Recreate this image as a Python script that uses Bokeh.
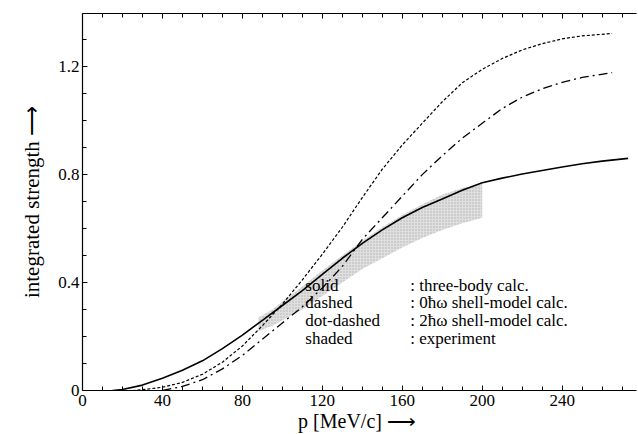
from bokeh.plotting import figure
from bokeh.models import Range1d, FixedTicker, LinearAxis, ColumnDataSource
from bokeh.core.properties import value
from bokeh.embed import file_html
from bokeh.resources import INLINE

# ---- data ----
solid_x = [15, 20, 30, 40, 50, 60, 70, 80, 90, 100, 110, 120, 130, 140, 150, 160, 170, 180, 190, 200, 210, 220, 230, 240, 250, 260, 273]
solid_y = [0.0, 0.004, 0.02, 0.045, 0.075, 0.11, 0.155, 0.205, 0.26, 0.315, 0.37, 0.43, 0.49, 0.545, 0.595, 0.64, 0.678, 0.71, 0.742, 0.77, 0.787, 0.802, 0.815, 0.828, 0.84, 0.85, 0.86]

dashed_x = [25, 30, 40, 50, 60, 70, 80, 90, 100, 110, 120, 130, 140, 150, 160, 170, 180, 190, 200, 210, 220, 230, 240, 250, 265]
dashed_y = [0.0, 0.003, 0.012, 0.03, 0.06, 0.105, 0.165, 0.24, 0.32, 0.41, 0.505, 0.605, 0.715, 0.82, 0.91, 0.99, 1.07, 1.14, 1.19, 1.23, 1.262, 1.285, 1.303, 1.314, 1.323]

dotdash_x = [40, 50, 60, 70, 80, 90, 100, 110, 120, 130, 140, 150, 160, 170, 180, 190, 200, 210, 220, 230, 240, 250, 265]
dotdash_y = [0.0, 0.015, 0.04, 0.08, 0.13, 0.19, 0.25, 0.31, 0.38, 0.46, 0.56, 0.64, 0.72, 0.80, 0.87, 0.935, 0.99, 1.045, 1.087, 1.118, 1.142, 1.16, 1.178]

exp_x = [88, 95, 100, 110, 120, 130, 140, 150, 160, 170, 180, 190, 200]
exp_hi = [0.27, 0.30, 0.33, 0.385, 0.445, 0.50, 0.555, 0.605, 0.65, 0.69, 0.725, 0.75, 0.765]
exp_lo = [0.22, 0.24, 0.26, 0.30, 0.35, 0.40, 0.45, 0.49, 0.53, 0.565, 0.595, 0.62, 0.64]

x_ticks = [0, 40, 80, 120, 160, 200, 240]
x_minor = [10, 20, 30, 50, 60, 70, 90, 100, 110, 130, 140, 150, 170, 180, 190, 210, 220, 230, 250, 260, 270]
y_ticks = [0, 0.4, 0.8, 1.2]
y_labels = ["0", "0.4", "0.8", "1.2"]
y_minor = [0.1, 0.2, 0.3, 0.5, 0.6, 0.7, 0.9, 1.0, 1.1, 1.3]

legend_keys = ["solid", "dashed", "dot-dashed", "shaded"]
legend_desc = [": three-body calc.", ": 0ħω shell-model calc.", ": 2ħω shell-model calc.", ": experiment"]
legend_y = [0.388, 0.325, 0.259, 0.193]

FONT = "Liberation Serif"

p = figure(width=638, height=434, output_backend="svg", toolbar_location=None,
           x_range=Range1d(0, 277.2), y_range=Range1d(0, 1.397),
           min_border_left=82, min_border_right=2, min_border_top=13, min_border_bottom=42)
p.background_fill_color = "white"
p.border_fill_color = "white"
p.outline_line_color = None
p.xgrid.visible = False
p.ygrid.visible = False

# experiment band
p.varea(x=exp_x, y1=exp_lo, y2=exp_hi, fill_color="#dcdcdc", fill_alpha=0.9,
        hatch_pattern="dot", hatch_color="#a8a8a8", hatch_scale=3, hatch_alpha=0.8)

# curves
p.line(solid_x, solid_y, line_color="black", line_width=1.6)
p.line(dashed_x, dashed_y, line_color="black", line_width=1.2, line_dash="3 2")
p.line(dotdash_x, dotdash_y, line_color="black", line_width=1.3, line_dash="9 4 2 4")

# legend texts
src = ColumnDataSource(dict(x=[111.5] * 4, x2=[164.0] * 4, y=legend_y, k=legend_keys, d=legend_desc))
p.text(x="x", y="y", text="k", source=src, text_font=value(FONT), text_font_size="17px",
       text_baseline="middle", text_align="left", text_color="black")
p.text(x="x2", y="y", text="d", source=src, text_font=value(FONT), text_font_size="17px",
       text_baseline="middle", text_align="left", text_color="black")

# axes
xa = p.xaxis[0]
xa.ticker = FixedTicker(ticks=x_ticks, minor_ticks=x_minor)
xa.axis_label = "p [MeV/c]  ⟶"
ya = p.yaxis[0]
ya.ticker = FixedTicker(ticks=y_ticks, minor_ticks=y_minor)
ya.major_label_overrides = {t: l for t, l in zip(y_ticks, y_labels)}
ya.axis_label = "integrated strength ⟶"

for ax in (xa, ya):
    ax.axis_line_color = "black"
    ax.axis_line_width = 1.2
    ax.major_tick_in = 5
    ax.major_tick_out = 0
    ax.minor_tick_in = 4
    ax.minor_tick_out = 0
    ax.major_tick_line_color = "black"
    ax.minor_tick_line_color = "black"
    ax.major_label_text_font = FONT
    ax.major_label_text_font_size = "17px"
    ax.major_label_text_color = "black"
    ax.axis_label_text_font = FONT
    ax.axis_label_text_font_style = "normal"
    ax.axis_label_text_color = "black"
xa.axis_label_text_font_size = "20px"
ya.axis_label_text_font_size = "21px"
xa.major_label_standoff = 4
xa.axis_label_standoff = 1
ya.major_label_standoff = 3
ya.axis_label_standoff = 11

top = LinearAxis(ticker=FixedTicker(ticks=x_ticks, minor_ticks=x_minor),
                 major_label_overrides={t: "" for t in x_ticks},
                 axis_line_color="black", axis_line_width=1.2,
                 major_tick_in=5, major_tick_out=0, minor_tick_in=4, minor_tick_out=0,
                 major_label_text_font_size="1px", major_label_standoff=0)
p.add_layout(top, "above")

open("out.html", "w").write(file_html(p, INLINE))
